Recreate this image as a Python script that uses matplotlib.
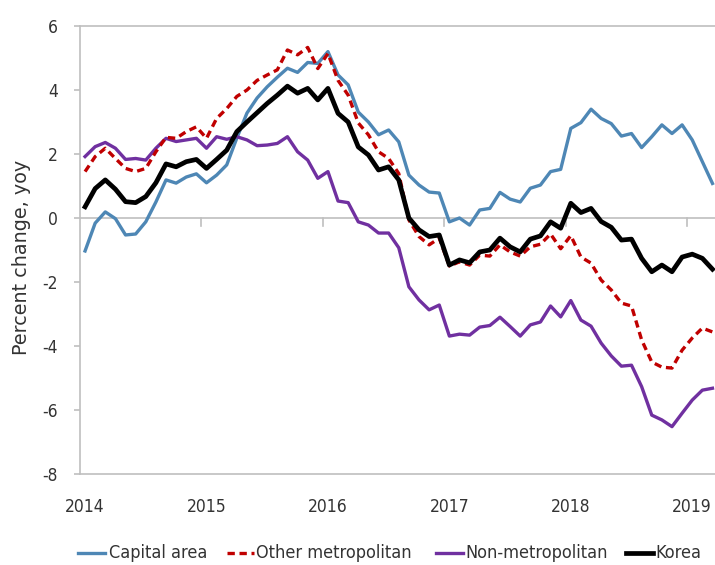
import matplotlib
matplotlib.use("Agg")
import matplotlib.pyplot as plt
from matplotlib import font_manager as fm
from matplotlib.lines import Line2D

# pick a condensed / narrow sans if one is installed
cand = None
for f in fm.fontManager.ttflist:
    nm = (f.name + " " + f.fname).lower()
    if ("narrow" in nm or "condensed" in nm or f.stretch in ("condensed", "semi-condensed")) \
            and "bold" not in nm and "italic" not in nm and "oblique" not in nm and f.weight in (400, "normal", "regular"):
        if "mono" in nm or "serif" in f.name.lower():
            continue
        cand = f
        break
if cand is not None:
    fm.fontManager.addfont(cand.fname)
    plt.rcParams['font.family'] = [cand.name, 'DejaVu Sans']
    plt.rcParams['font.stretch'] = cand.stretch
    FS = 12.5
    LFS = 13
else:
    plt.rcParams['font.family'] = ['DejaVu Sans']
    FS = 11.5
    LFS = 11

year_labels = ["2014", "2015", "2016", "2017", "2018", "2019"]

capital = [-1.03, -0.16, 0.19, -0.02, -0.53, -0.5, -0.12, 0.5, 1.19, 1.09, 1.28, 1.38,
           1.1, 1.34, 1.66, 2.5, 3.28, 3.75, 4.1, 4.4, 4.68, 4.55, 4.86, 4.83,
           5.2, 4.47, 4.16, 3.31, 3.0, 2.6, 2.75, 2.38, 1.34, 1.03, 0.81, 0.78,
           -0.12, 0.0, -0.22, 0.25, 0.3, 0.8, 0.59, 0.5, 0.93, 1.03, 1.45, 1.52,
           2.8, 2.98, 3.4, 3.11, 2.95, 2.56, 2.64, 2.2, 2.54, 2.91, 2.64, 2.91,
           2.44, 1.76, 1.08]

other_metro = [1.45, 1.92, 2.18, 1.86, 1.55, 1.45, 1.55, 2.07, 2.52, 2.49, 2.7, 2.85,
               2.49, 3.11, 3.42, 3.8, 4.0, 4.3, 4.47, 4.63, 5.25, 5.1, 5.33, 4.67,
               5.14, 4.3, 3.84, 2.97, 2.6, 2.07, 1.86, 1.39, -0.06, -0.58, -0.84, -0.63,
               -1.5, -1.37, -1.47, -1.16, -1.19, -0.84, -1.06, -1.19, -0.9, -0.82, -0.5, -0.96,
               -0.55, -1.22, -1.41, -1.94, -2.25, -2.66, -2.75, -3.81, -4.5, -4.66, -4.69, -4.13,
               -3.75, -3.44, -3.56]

non_metro = [1.92, 2.23, 2.36, 2.18, 1.83, 1.86, 1.81, 2.18, 2.49, 2.39, 2.44, 2.49,
             2.18, 2.54, 2.46, 2.54, 2.44, 2.26, 2.28, 2.33, 2.54, 2.07, 1.81, 1.24,
             1.45, 0.53, 0.48, -0.12, -0.22, -0.47, -0.47, -0.93, -2.15, -2.56, -2.87, -2.72,
             -3.69, -3.63, -3.66, -3.41, -3.36, -3.1, -3.39, -3.69, -3.34, -3.25, -2.75, -3.09,
             -2.58, -3.19, -3.38, -3.91, -4.31, -4.63, -4.6, -5.27, -6.16, -6.31, -6.52, -6.1,
             -5.69, -5.38, -5.32]

korea = [0.35, 0.92, 1.19, 0.9, 0.51, 0.48, 0.67, 1.1, 1.69, 1.6, 1.76, 1.83,
         1.55, 1.83, 2.12, 2.7, 3.0, 3.29, 3.58, 3.84, 4.12, 3.9, 4.05, 3.69,
         4.05, 3.27, 3.0, 2.22, 1.97, 1.5, 1.6, 1.19, 0.0, -0.37, -0.58, -0.53,
         -1.47, -1.31, -1.4, -1.06, -1.0, -0.63, -0.9, -1.06, -0.66, -0.56, -0.12, -0.32,
         0.46, 0.17, 0.3, -0.11, -0.29, -0.69, -0.66, -1.26, -1.68, -1.47, -1.68, -1.22,
         -1.13, -1.26, -1.6]

series_names = ["Capital area", "Other metropolitan", "Non-metropolitan", "Korea"]

n = len(korea)
x = list(range(n))

W, H = 715, 565
fig = plt.figure(figsize=(W / 100, H / 100), dpi=100)
ax = fig.add_axes([80 / W, 91 / H, 635 / W, 448 / H])

c_blue = "#4E87B5"
c_red = "#C00000"
c_purple = "#7030A0"
c_black = "#000000"
dash = (0, (2.2, 1.4))

styles = [
    dict(color=c_blue, lw=2.4, ls="-", zorder=3),
    dict(color=c_red, lw=2.4, ls=dash, zorder=4),
    dict(color=c_purple, lw=2.4, ls="-", zorder=3),
    dict(color=c_black, lw=3.4, ls="-", zorder=5),
]
for data, st in zip([capital, other_metro, non_metro, korea], styles):
    ax.plot(x, data, **st)

ax.set_xlim(-0.5, 62.25)
ax.set_ylim(-8, 6)
ax.set_yticks(range(-8, 7, 2))
ax.set_yticklabels([str(v) for v in range(-8, 7, 2)])

grey = "#BFBFBF"
for s in ["left", "top", "bottom"]:
    ax.spines[s].set_color(grey)
    ax.spines[s].set_linewidth(1.2)
ax.spines["right"].set_visible(False)

ax.axhline(0, color=grey, lw=1.2, zorder=1)
for k in range(1, 6):
    xt = 12 * k - 0.5
    ax.plot([xt, xt], [0, -0.25], color=grey, lw=1.2, zorder=1)

ax.set_xticks([12 * k for k in range(6)])
ax.set_xticklabels(year_labels)
ax.tick_params(axis='x', length=0, pad=17, labelsize=FS, colors="#333333")
ax.tick_params(axis='y', length=4, width=1.2, color=grey, pad=12, labelsize=FS, labelcolor="#333333")

fig.text(22 / W, 1 - 257 / H, "Percent change, yoy", rotation=90, ha="center", va="center",
         fontsize=13.8, color="#333333", family="DejaVu Sans", fontstretch="normal")

# legend, laid out in one row below the axis
leg_y = 1 - 553 / H
handle_x = [78, 227, 436, 626]
text_x = [109, 256, 465, 655]
for hx, tx, name, st in zip(handle_x, text_x, series_names, styles):
    fig.add_artist(Line2D([hx / W, (hx + 27) / W], [leg_y, leg_y], color=st["color"],
                          lw=st["lw"], ls=st["ls"]))
    fig.text(tx / W, leg_y, name, ha="left", va="center", fontsize=LFS, color="#333333")

fig.savefig("out.png", dpi=100)
